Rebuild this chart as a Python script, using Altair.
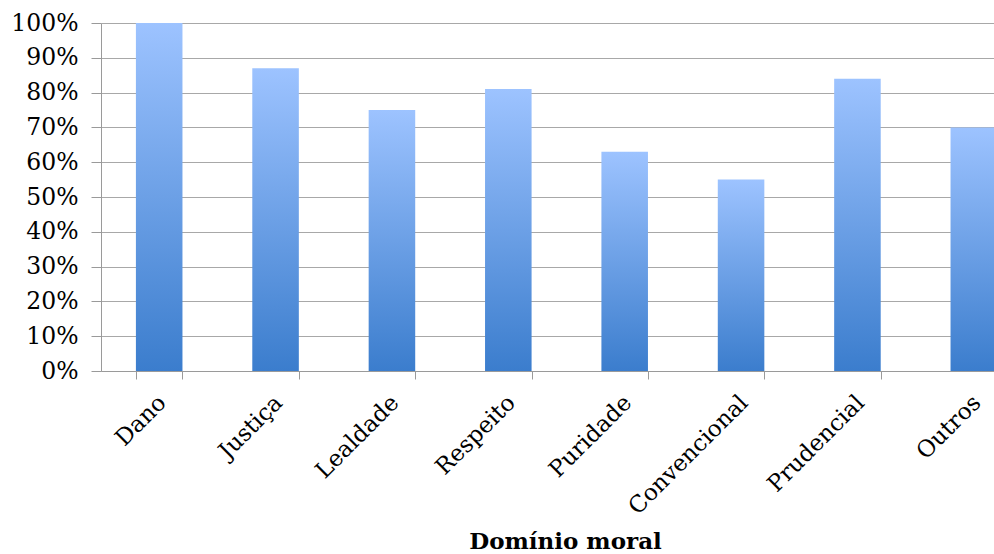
import altair as alt
import pandas as pd

categories = ["Dano", "Justiça", "Lealdade", "Respeito", "Puridade", "Convencional", "Prudencial", "Outros"]
values = [1.00, 0.87, 0.75, 0.81, 0.63, 0.55, 0.84, 0.70]

df = pd.DataFrame({"cat": categories, "val": values})

FONT = "DejaVu Serif"

grad = alt.Gradient(
    gradient="linear",
    x1=0, x2=0, y1=0, y2=1,
    stops=[alt.GradientStop(offset=0, color="#9dc3ff"),
           alt.GradientStop(offset=1, color="#3b7dcd")],
)

chart = alt.Chart(df).mark_bar(color=grad).encode(
    x=alt.X("cat:N", sort=categories, title="Domínio moral",
            scale=alt.Scale(range=[0, 931], paddingInner=0.6, paddingOuter=0.3),
            axis=alt.Axis(labelAngle=-45, labelFont=FONT, labelFontSize=23, labelColor="#000",
                          labelPadding=12, labelOffset=-5, tickBand="extent", tickSize=8,
                          tickColor="#9a9a9a", domainColor="#9a9a9a", grid=False,
                          titleFont=FONT, titleFontSize=23, titleFontWeight="bold", titleColor="#000",
                          titleX=464, titleY=159, titleBaseline="top")),
    y=alt.Y("val:Q", title=None,
            scale=alt.Scale(domain=[0, 1]),
            axis=alt.Axis(format=".0%", values=[i / 10 for i in range(11)],
                          labelFont=FONT, labelFontSize=23.5, labelColor="#000", labelPadding=13,
                          tickSize=10, tickColor="#9a9a9a", domainColor="#9a9a9a",
                          gridColor="#a8a8a8", gridWidth=1.2)),
).properties(
    width=893, height=348,
    autosize=alt.AutoSizeParams(type="none"),
    padding={"left": 101, "top": 23, "right": 0, "bottom": 183},
).configure_view(stroke=None)

chart.save("out.html", embed_options={"renderer": "svg", "actions": False})
